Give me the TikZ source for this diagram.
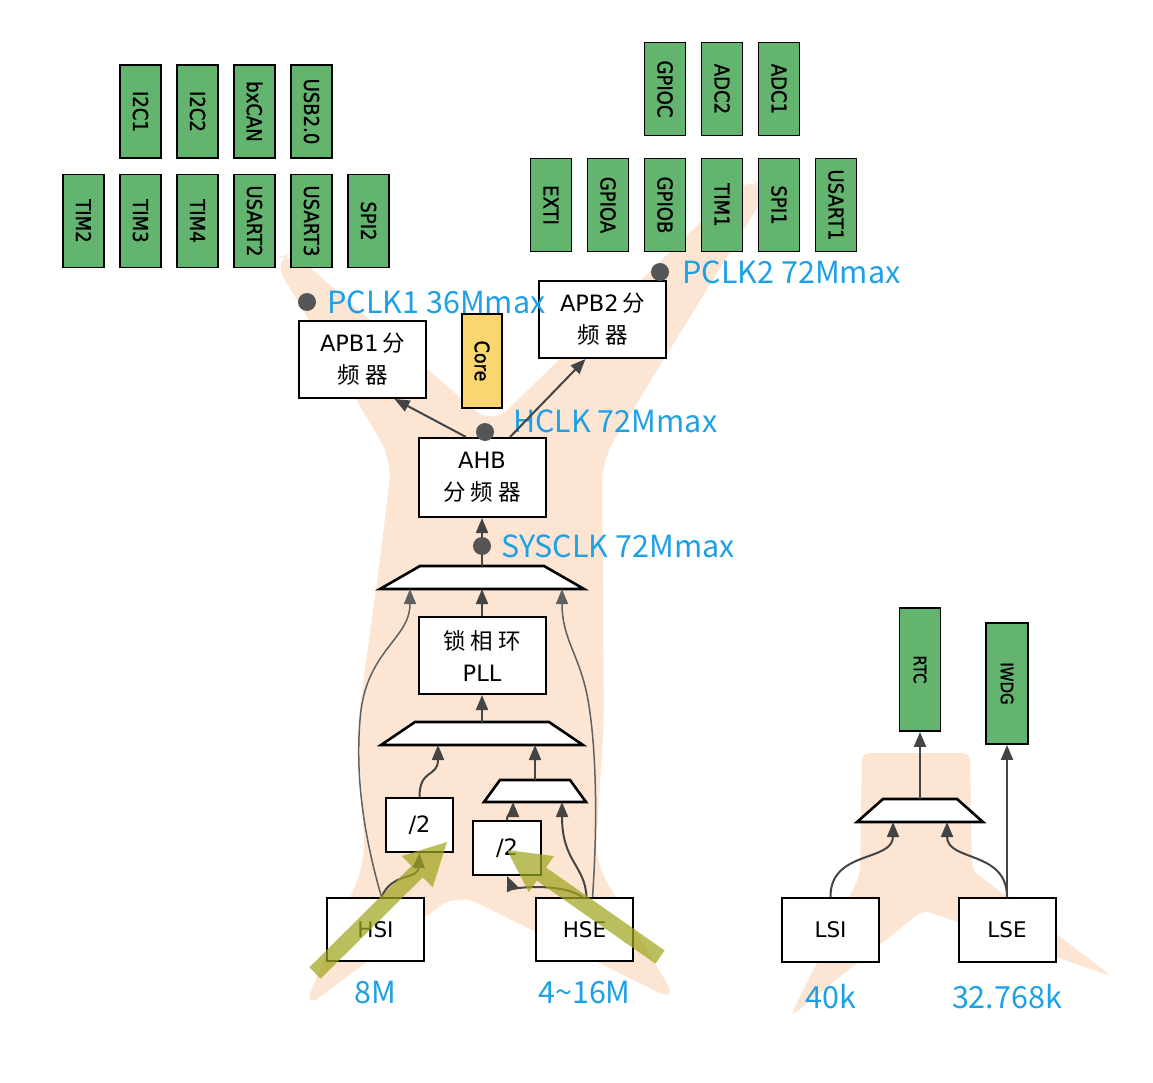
\documentclass[tikz,border=0pt]{standalone}
\usepackage{fontspec}
\setmainfont{Noto Sans CJK SC}
\newfontfamily\cjk{Noto Sans CJK SC}
\newfontfamily\boxfont{DejaVu Sans}
\newfontfamily\perifont{DejaVu Sans}[FakeStretch=0.88, FakeBold=1.2]
\usetikzlibrary{arrows.meta,positioning}
\definecolor{perigreen}{RGB}{99,180,110}
\definecolor{coreyellow}{RGB}{250,214,110}
\definecolor{clkblue}{RGB}{30,160,230}
\definecolor{wiregray}{RGB}{68,68,68}
\definecolor{dotgray}{RGB}{85,85,85}
\definecolor{hiolive}{RGB}{160,165,30}
\definecolor{treepeach}{RGB}{252,229,211}

\begin{document}
\begin{tikzpicture}[
  x=1pt, y=-1pt, >={Triangle[length=15pt,width=12pt]},
  blk/.style={draw=black, line width=2pt, fill=white, minimum width=127,
    minimum height=77, inner sep=0, align=center, font=\boxfont\fontsize{22.5}{32}\selectfont},
  periph/.style={draw=black, line width=1.8pt, fill=perigreen, rotate=-90,
    minimum width=93, minimum height=41, inner sep=0, font=\perifont\fontsize{20.5}{20.5}\selectfont},
  muxline/.style={draw=black, line width=2.6pt, fill=white, line join=miter},
  clkdot/.style={circle, fill=dotgray, minimum size=18, inner sep=0},
  clklbl/.style={text=clkblue, anchor=west, inner sep=0, font=\fontsize{30.5}{30.5}\selectfont},
  freqlbl/.style={text=clkblue, inner sep=0, font=\fontsize{30.5}{30.5}\selectfont},
  wire/.style={->, draw=wiregray, line width=2pt},
  bypass/.style={->, draw=wiregray!85, line width=1.5pt},
  hilite/.style={fill=hiolive, fill opacity=.72}
]
\useasboundingbox (0,0) rectangle (1153,1083);

% peach trees behind everything
\fill[treepeach, rounded corners=22pt] (303,1010) -- (365,862) -- (358,720)
  -- (380,560) -- (392,460) -- (272,258) -- (294,254) -- (492,425)
  -- (748,176) -- (768,190) -- (602,460) -- (604,720) -- (595,862)
  -- (678,1002) -- (457,893) -- cycle;
\fill[treepeach, rounded corners=8pt] (862,753) -- (970,753) -- (972,870)
  -- (1113,977) -- (923,910) -- (790,1017) -- (860,875) -- cycle;

% APB1 peripherals
\foreach \n [count=\i] in {I2C1,I2C2,bxCAN,USB2.0}
  \node[periph] (apb1top\i) at ({140.5+57*(\i-1)},111.5) {\n};
\foreach \n [count=\i] in {TIM2,TIM3,TIM4,USART2,USART3,SPI2}
  \node[periph] (apb1bot\i) at ({83.5+57*(\i-1)},221) {\n};
% APB2 peripherals
\foreach \n [count=\i] in {GPIOC,ADC2,ADC1}
  \node[periph] (apb2top\i) at ({665+57*(\i-1)},89) {\n};
\foreach \n [count=\i] in {EXTI,GPIOA,GPIOB,TIM1,SPI1,USART1}
  \node[periph] (apb2bot\i) at ({551+57*(\i-1)},205) {\n};

% bus prescalers
\node[blk] (apb1) at (362.5,359.5) {APB1\,{\cjk 分}\\{\cjk 频 器}};
\node[blk, fill=coreyellow, rotate=-90, minimum width=94, minimum height=40,
  font=\perifont\fontsize{20}{20}\selectfont] (core) at (482,361) {Core};
\node[blk] (apb2) at (602.5,319.5) {APB2\,{\cjk 分}\\{\cjk 频 器}};
\node[blk, minimum height=79] (ahb) at (482,477.5) {AHB\\{\cjk 分 频 器}};
\node[blk] (pll) at (482,655.5) {{\cjk 锁 相 环}\\PLL};

% selectors
\draw[muxline] (420,566) -- (544,566) -- (584,589) -- (380,589) -- cycle;
\draw[muxline] (415,722) -- (549,722) -- (583,745) -- (381,745) -- cycle;
\draw[muxline] (500,780) -- (570,780) -- (586,802) -- (484,802) -- cycle;
\draw[muxline] (883,799) -- (957,799) -- (983,822) -- (857,822) -- cycle;
\coordinate (mux1n) at (482,566); \coordinate (mux1s) at (482,589);
\coordinate (mux2n) at (482,722); \coordinate (mux2s) at (482,745);
\coordinate (mux3n) at (535,780); \coordinate (mux3s) at (535,802);
\coordinate (mux4n) at (920,799); \coordinate (mux4s) at (920,822);

% oscillators
\node[blk, minimum width=67, minimum height=54] (halfl) at (419.5,825) {/2};
\node[blk, minimum width=68, minimum height=54] (halfr) at (507,848) {/2};
\node[blk, minimum width=97, minimum height=63, font=\boxfont\fontsize{21.5}{21.5}\selectfont] (hsi) at (375.5,929.5) {HSI};
\node[blk, minimum width=97, minimum height=63, font=\boxfont\fontsize{21.5}{21.5}\selectfont] (hse) at (584.5,929.5) {HSE};
\node[blk, minimum width=97, minimum height=64, font=\boxfont\fontsize{21.5}{21.5}\selectfont] (lsi) at (830.5,930) {LSI};
\node[blk, minimum width=97, minimum height=64, font=\boxfont\fontsize{21.5}{21.5}\selectfont] (lse) at (1007,930) {LSE};
\node[periph, minimum width=123, font=\perifont\fontsize{17}{17}\selectfont] (rtc) at (920,669.5) {RTC};
\node[periph, minimum width=121, minimum height=42, font=\perifont\fontsize{17}{17}\selectfont] (iwdg) at (1007,683.5) {IWDG};

% clock taps
\node[clkdot] (sysdot) at (482,546) {};
\node[clkdot] (hclkdot) at (485,432) {};
\node[clkdot] (pclk1dot) at (307,302) {};
\node[clkdot] (pclk2dot) at (660,272) {};
\node[clklbl, right=11pt of pclk1dot] (pclk1lbl) {PCLK1 36Mmax};
\node[clklbl, right=13pt of pclk2dot] (pclk2lbl) {PCLK2 72Mmax};
\node[clklbl] (hclklbl) at (513,421) {HCLK 72Mmax};
\node[clklbl, right=10pt of sysdot] (syslbl) {SYSCLK 72Mmax};
\node[freqlbl, below=19pt of hsi] (hsif) {8M};
\node[freqlbl, below=19pt of hse] (hsef) {4\textasciitilde16M};
\node[freqlbl, below=21pt of lsi] (lsif) {40k};
\node[freqlbl, below=21pt of lse] (lsef) {32.768k};

% high speed tree
\draw[wire] ([xshift=6]hsi.north) .. controls (392,872) and (418,880) .. (halfl.south);
\draw[bypass] ([xshift=6]hsi.north) .. controls (365,840) and (355,780) .. (360,720)
  .. controls (365,650) and (410,640) .. ([xshift=-72]mux1s);
\draw[wire] (halfl.north) .. controls (419.5,768) and (438,778) .. ([xshift=-44]mux2s);
\draw[wire] ([xshift=-2]hse.north) .. controls (560,882) and (512,888) .. (halfr.south);
\draw[wire] ([xshift=2]hse.north) .. controls (585,865) and (562,862) .. ([xshift=27]mux3s);
\draw[bypass] ([xshift=8]hse.north) .. controls (598,820) and (596,745) .. (588,700)
  .. controls (580,655) and (562,640) .. ([xshift=80]mux1s);
\draw[wire] (halfr.north) .. controls (507,812) and (513,814) .. ([xshift=-22]mux3s);
\draw[wire] (mux3n) -- (mux3n |- mux2s);
\draw[wire] (mux2n) -- (pll);
\draw[wire] (pll) -- (mux1s);
\draw[draw=wiregray, line width=2pt] (mux1n) -- (sysdot);
\draw[wire] (sysdot) -- (ahb);
\draw[wire] ([xshift=-16]ahb.north) -- ([xshift=32]apb1.south);
\draw[wire] ([xshift=28]ahb.north) -- ([xshift=-17]apb2.south);

% low speed tree
\draw[wire] (lsi.north) .. controls (830,850) and (893,862) .. ([xshift=-27]mux4s);
\draw[wire] (lse.north) .. controls (1007,850) and (947,862) .. ([xshift=27]mux4s);
\draw[wire] (lse) -- (iwdg);
\draw[wire] (mux4n) -- (rtc);

% highlight arrows into the dividers
\fill[hilite] (309.4,967.3) -- (411.6,865.9) -- (401.7,856.0) -- (447,842)
  -- (432.7,887.2) -- (422.8,877.3) -- (320.6,978.7) -- cycle;
\fill[hilite] (655.4,963.6) -- (536.8,880.7) -- (528.8,892.1) -- (507,850)
  -- (554.0,856.1) -- (546.0,867.5) -- (664.6,950.4) -- cycle;
\end{tikzpicture}
\end{document}
